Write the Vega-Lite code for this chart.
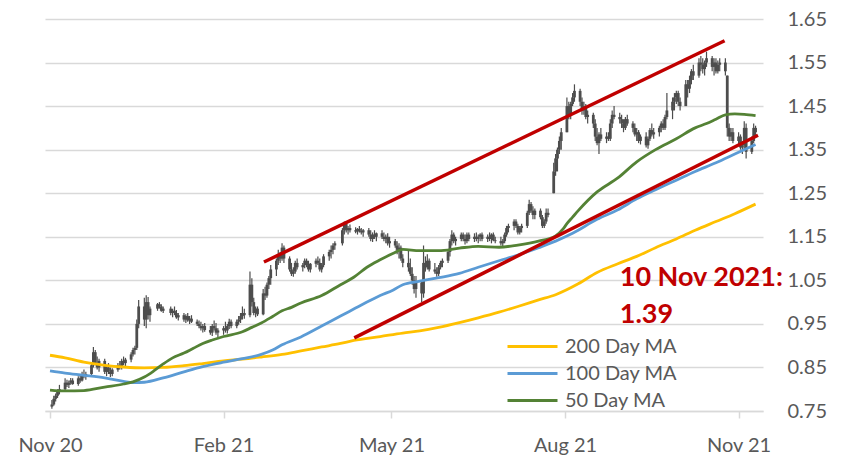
{
  "$schema": "https://vega.github.io/schema/vega-lite/v6.json",
  "width": 718,
  "height": 392,
  "autosize": {"type": "none"},
  "padding": {"left": 45, "top": 19, "right": 80, "bottom": 44},
  "background": "white",
  "config": {"view": {"stroke": null}, "font": "Lato"},
  "datasets": {
    "price": [
      {"d":"2020-11-02","o":0.76,"h":0.775,"l":0.755,"c":0.765},
      {"d":"2020-11-03","o":0.765,"h":0.785,"l":0.762,"c":0.778},
      {"d":"2020-11-04","o":0.778,"h":0.79,"l":0.772,"c":0.785},
      {"d":"2020-11-05","o":0.785,"h":0.8,"l":0.78,"c":0.795},
      {"d":"2020-11-06","o":0.795,"h":0.81,"l":0.788,"c":0.8},
      {"d":"2020-11-09","o":0.8,"h":0.825,"l":0.798,"c":0.815},
      {"d":"2020-11-10","o":0.815,"h":0.822,"l":0.805,"c":0.81},
      {"d":"2020-11-11","o":0.81,"h":0.82,"l":0.803,"c":0.815},
      {"d":"2020-11-12","o":0.815,"h":0.826,"l":0.81,"c":0.82},
      {"d":"2020-11-13","o":0.82,"h":0.825,"l":0.81,"c":0.812},
      {"d":"2020-11-16","o":0.812,"h":0.83,"l":0.808,"c":0.825},
      {"d":"2020-11-17","o":0.825,"h":0.835,"l":0.815,"c":0.82},
      {"d":"2020-11-18","o":0.82,"h":0.84,"l":0.818,"c":0.835},
      {"d":"2020-11-19","o":0.835,"h":0.845,"l":0.825,"c":0.83},
      {"d":"2020-11-20","o":0.83,"h":0.84,"l":0.822,"c":0.835},
      {"d":"2020-11-23","o":0.835,"h":0.86,"l":0.83,"c":0.855},
      {"d":"2020-11-24","o":0.855,"h":0.897,"l":0.85,"c":0.885},
      {"d":"2020-11-25","o":0.885,"h":0.89,"l":0.855,"c":0.86},
      {"d":"2020-11-26","o":0.86,"h":0.875,"l":0.845,"c":0.85},
      {"d":"2020-11-27","o":0.85,"h":0.87,"l":0.84,"c":0.865},
      {"d":"2020-11-30","o":0.865,"h":0.87,"l":0.835,"c":0.84},
      {"d":"2020-12-01","o":0.84,"h":0.855,"l":0.83,"c":0.85},
      {"d":"2020-12-02","o":0.85,"h":0.86,"l":0.835,"c":0.84},
      {"d":"2020-12-03","o":0.84,"h":0.85,"l":0.828,"c":0.835},
      {"d":"2020-12-04","o":0.835,"h":0.848,"l":0.83,"c":0.845},
      {"d":"2020-12-07","o":0.845,"h":0.86,"l":0.84,"c":0.855},
      {"d":"2020-12-08","o":0.855,"h":0.865,"l":0.845,"c":0.85},
      {"d":"2020-12-09","o":0.85,"h":0.87,"l":0.845,"c":0.865},
      {"d":"2020-12-10","o":0.865,"h":0.875,"l":0.855,"c":0.86},
      {"d":"2020-12-11","o":0.86,"h":0.872,"l":0.852,"c":0.868},
      {"d":"2020-12-14","o":0.868,"h":0.885,"l":0.862,"c":0.88},
      {"d":"2020-12-15","o":0.88,"h":0.895,"l":0.875,"c":0.89},
      {"d":"2020-12-16","o":0.89,"h":0.9,"l":0.88,"c":0.895},
      {"d":"2020-12-17","o":0.895,"h":0.96,"l":0.89,"c":0.95},
      {"d":"2020-12-18","o":0.95,"h":1.005,"l":0.94,"c":0.99},
      {"d":"2020-12-21","o":0.99,"h":1.01,"l":0.945,"c":0.96},
      {"d":"2020-12-22","o":0.96,"h":1.016,"l":0.94,"c":1.0},
      {"d":"2020-12-23","o":1.0,"h":1.012,"l":0.96,"c":0.97},
      {"d":"2020-12-24","o":0.97,"h":0.99,"l":0.955,"c":0.985},
      {"d":"2020-12-28","o":0.985,"h":0.998,"l":0.98,"c":0.995},
      {"d":"2020-12-29","o":0.995,"h":1.0,"l":0.985,"c":0.99},
      {"d":"2020-12-30","o":0.99,"h":0.995,"l":0.978,"c":0.98},
      {"d":"2020-12-31","o":0.98,"h":0.99,"l":0.975,"c":0.985},
      {"d":"2021-01-04","o":0.985,"h":0.99,"l":0.97,"c":0.975},
      {"d":"2021-01-05","o":0.975,"h":0.985,"l":0.965,"c":0.98},
      {"d":"2021-01-06","o":0.98,"h":0.99,"l":0.97,"c":0.975},
      {"d":"2021-01-07","o":0.975,"h":0.982,"l":0.962,"c":0.965},
      {"d":"2021-01-08","o":0.965,"h":0.975,"l":0.958,"c":0.97},
      {"d":"2021-01-11","o":0.97,"h":0.975,"l":0.955,"c":0.96},
      {"d":"2021-01-12","o":0.96,"h":0.972,"l":0.952,"c":0.968},
      {"d":"2021-01-13","o":0.968,"h":0.975,"l":0.955,"c":0.958},
      {"d":"2021-01-14","o":0.958,"h":0.968,"l":0.95,"c":0.962},
      {"d":"2021-01-15","o":0.962,"h":0.97,"l":0.952,"c":0.955},
      {"d":"2021-01-18","o":0.955,"h":0.96,"l":0.945,"c":0.95},
      {"d":"2021-01-19","o":0.95,"h":0.958,"l":0.94,"c":0.945},
      {"d":"2021-01-20","o":0.945,"h":0.955,"l":0.935,"c":0.94},
      {"d":"2021-01-21","o":0.94,"h":0.95,"l":0.93,"c":0.945},
      {"d":"2021-01-22","o":0.945,"h":0.952,"l":0.932,"c":0.936},
      {"d":"2021-01-25","o":0.936,"h":0.945,"l":0.925,"c":0.93},
      {"d":"2021-01-26","o":0.93,"h":0.95,"l":0.922,"c":0.945},
      {"d":"2021-01-27","o":0.945,"h":0.958,"l":0.935,"c":0.94},
      {"d":"2021-01-28","o":0.94,"h":0.952,"l":0.925,"c":0.93},
      {"d":"2021-01-29","o":0.93,"h":0.94,"l":0.92,"c":0.935},
      {"d":"2021-02-01","o":0.935,"h":0.945,"l":0.925,"c":0.94},
      {"d":"2021-02-02","o":0.94,"h":0.955,"l":0.93,"c":0.935},
      {"d":"2021-02-03","o":0.935,"h":0.95,"l":0.928,"c":0.945},
      {"d":"2021-02-04","o":0.945,"h":0.962,"l":0.938,"c":0.955},
      {"d":"2021-02-05","o":0.955,"h":0.96,"l":0.94,"c":0.945},
      {"d":"2021-02-08","o":0.945,"h":0.96,"l":0.94,"c":0.955},
      {"d":"2021-02-09","o":0.955,"h":0.968,"l":0.948,"c":0.96},
      {"d":"2021-02-10","o":0.96,"h":0.975,"l":0.952,"c":0.968},
      {"d":"2021-02-11","o":0.968,"h":0.99,"l":0.96,"c":0.975},
      {"d":"2021-02-12","o":0.975,"h":0.985,"l":0.962,"c":0.97},
      {"d":"2021-02-15","o":0.97,"h":1.07,"l":0.965,"c":1.04},
      {"d":"2021-02-16","o":1.04,"h":1.055,"l":0.99,"c":1.0},
      {"d":"2021-02-17","o":1.0,"h":1.01,"l":0.97,"c":0.975},
      {"d":"2021-02-18","o":0.975,"h":0.99,"l":0.965,"c":0.985},
      {"d":"2021-02-19","o":0.985,"h":0.99,"l":0.968,"c":0.972},
      {"d":"2021-02-22","o":0.972,"h":1.03,"l":0.97,"c":1.02},
      {"d":"2021-02-23","o":1.02,"h":1.035,"l":1.005,"c":1.015},
      {"d":"2021-02-24","o":1.015,"h":1.045,"l":1.01,"c":1.04},
      {"d":"2021-02-25","o":1.04,"h":1.06,"l":1.03,"c":1.055},
      {"d":"2021-02-26","o":1.055,"h":1.085,"l":1.04,"c":1.075},
      {"d":"2021-03-01","o":1.075,"h":1.1,"l":1.06,"c":1.095},
      {"d":"2021-03-02","o":1.095,"h":1.12,"l":1.085,"c":1.11},
      {"d":"2021-03-03","o":1.11,"h":1.115,"l":1.09,"c":1.1},
      {"d":"2021-03-04","o":1.1,"h":1.135,"l":1.095,"c":1.125},
      {"d":"2021-03-05","o":1.125,"h":1.13,"l":1.09,"c":1.1},
      {"d":"2021-03-08","o":1.1,"h":1.105,"l":1.07,"c":1.075},
      {"d":"2021-03-09","o":1.075,"h":1.09,"l":1.06,"c":1.065},
      {"d":"2021-03-10","o":1.065,"h":1.08,"l":1.058,"c":1.07},
      {"d":"2021-03-11","o":1.07,"h":1.095,"l":1.065,"c":1.09},
      {"d":"2021-03-12","o":1.09,"h":1.1,"l":1.075,"c":1.08},
      {"d":"2021-03-15","o":1.08,"h":1.09,"l":1.07,"c":1.085},
      {"d":"2021-03-16","o":1.085,"h":1.1,"l":1.078,"c":1.095},
      {"d":"2021-03-17","o":1.095,"h":1.1,"l":1.08,"c":1.085},
      {"d":"2021-03-18","o":1.085,"h":1.095,"l":1.07,"c":1.075},
      {"d":"2021-03-19","o":1.075,"h":1.09,"l":1.068,"c":1.088},
      {"d":"2021-03-22","o":1.088,"h":1.1,"l":1.08,"c":1.095},
      {"d":"2021-03-23","o":1.095,"h":1.105,"l":1.085,"c":1.09},
      {"d":"2021-03-24","o":1.09,"h":1.1,"l":1.07,"c":1.075},
      {"d":"2021-03-25","o":1.075,"h":1.09,"l":1.068,"c":1.085},
      {"d":"2021-03-26","o":1.085,"h":1.11,"l":1.08,"c":1.105},
      {"d":"2021-03-29","o":1.105,"h":1.12,"l":1.095,"c":1.115},
      {"d":"2021-03-30","o":1.115,"h":1.13,"l":1.1,"c":1.12},
      {"d":"2021-03-31","o":1.12,"h":1.135,"l":1.11,"c":1.13},
      {"d":"2021-04-01","o":1.13,"h":1.14,"l":1.12,"c":1.135},
      {"d":"2021-04-05","o":1.135,"h":1.17,"l":1.13,"c":1.165},
      {"d":"2021-04-06","o":1.165,"h":1.185,"l":1.155,"c":1.18},
      {"d":"2021-04-07","o":1.18,"h":1.185,"l":1.16,"c":1.165},
      {"d":"2021-04-08","o":1.165,"h":1.175,"l":1.155,"c":1.17},
      {"d":"2021-04-09","o":1.17,"h":1.178,"l":1.16,"c":1.165},
      {"d":"2021-04-12","o":1.165,"h":1.172,"l":1.158,"c":1.162},
      {"d":"2021-04-13","o":1.162,"h":1.17,"l":1.155,"c":1.168},
      {"d":"2021-04-14","o":1.168,"h":1.175,"l":1.16,"c":1.163},
      {"d":"2021-04-15","o":1.163,"h":1.17,"l":1.155,"c":1.16},
      {"d":"2021-04-16","o":1.16,"h":1.168,"l":1.15,"c":1.165},
      {"d":"2021-04-19","o":1.165,"h":1.17,"l":1.15,"c":1.155},
      {"d":"2021-04-20","o":1.155,"h":1.165,"l":1.14,"c":1.145},
      {"d":"2021-04-21","o":1.145,"h":1.16,"l":1.138,"c":1.155},
      {"d":"2021-04-22","o":1.155,"h":1.165,"l":1.145,"c":1.15},
      {"d":"2021-04-23","o":1.15,"h":1.16,"l":1.14,"c":1.158},
      {"d":"2021-04-26","o":1.158,"h":1.165,"l":1.145,"c":1.15},
      {"d":"2021-04-27","o":1.15,"h":1.16,"l":1.14,"c":1.145},
      {"d":"2021-04-28","o":1.145,"h":1.155,"l":1.135,"c":1.15},
      {"d":"2021-04-29","o":1.15,"h":1.158,"l":1.13,"c":1.135},
      {"d":"2021-04-30","o":1.135,"h":1.15,"l":1.125,"c":1.14},
      {"d":"2021-05-03","o":1.14,"h":1.145,"l":1.125,"c":1.13},
      {"d":"2021-05-04","o":1.13,"h":1.14,"l":1.11,"c":1.12},
      {"d":"2021-05-05","o":1.12,"h":1.135,"l":1.1,"c":1.125},
      {"d":"2021-05-06","o":1.125,"h":1.13,"l":1.095,"c":1.1},
      {"d":"2021-05-07","o":1.1,"h":1.11,"l":1.08,"c":1.09},
      {"d":"2021-05-10","o":1.09,"h":1.12,"l":1.07,"c":1.08},
      {"d":"2021-05-11","o":1.08,"h":1.1,"l":1.06,"c":1.065},
      {"d":"2021-05-12","o":1.065,"h":1.08,"l":1.04,"c":1.05},
      {"d":"2021-05-13","o":1.05,"h":1.06,"l":1.02,"c":1.03},
      {"d":"2021-05-14","o":1.03,"h":1.06,"l":1.01,"c":1.045},
      {"d":"2021-05-17","o":1.045,"h":1.05,"l":1.0,"c":1.02},
      {"d":"2021-05-18","o":1.02,"h":1.13,"l":1.01,"c":1.09},
      {"d":"2021-05-19","o":1.09,"h":1.105,"l":1.07,"c":1.08},
      {"d":"2021-05-20","o":1.08,"h":1.11,"l":1.075,"c":1.095},
      {"d":"2021-05-21","o":1.095,"h":1.1,"l":1.07,"c":1.075},
      {"d":"2021-05-24","o":1.075,"h":1.09,"l":1.065,"c":1.07},
      {"d":"2021-05-25","o":1.07,"h":1.08,"l":1.058,"c":1.065},
      {"d":"2021-05-26","o":1.065,"h":1.085,"l":1.06,"c":1.08},
      {"d":"2021-05-27","o":1.08,"h":1.095,"l":1.075,"c":1.09},
      {"d":"2021-05-28","o":1.09,"h":1.1,"l":1.08,"c":1.095},
      {"d":"2021-05-31","o":1.095,"h":1.12,"l":1.09,"c":1.115},
      {"d":"2021-06-01","o":1.115,"h":1.145,"l":1.105,"c":1.14},
      {"d":"2021-06-02","o":1.14,"h":1.165,"l":1.13,"c":1.155},
      {"d":"2021-06-03","o":1.155,"h":1.16,"l":1.135,"c":1.14},
      {"d":"2021-06-04","o":1.14,"h":1.15,"l":1.13,"c":1.145},
      {"d":"2021-06-07","o":1.145,"h":1.16,"l":1.14,"c":1.155},
      {"d":"2021-06-08","o":1.155,"h":1.16,"l":1.14,"c":1.145},
      {"d":"2021-06-09","o":1.145,"h":1.155,"l":1.132,"c":1.14},
      {"d":"2021-06-10","o":1.14,"h":1.16,"l":1.135,"c":1.155},
      {"d":"2021-06-11","o":1.155,"h":1.16,"l":1.14,"c":1.145},
      {"d":"2021-06-14","o":1.145,"h":1.158,"l":1.138,"c":1.15},
      {"d":"2021-06-15","o":1.15,"h":1.16,"l":1.14,"c":1.145},
      {"d":"2021-06-16","o":1.145,"h":1.155,"l":1.135,"c":1.15},
      {"d":"2021-06-17","o":1.15,"h":1.158,"l":1.14,"c":1.155},
      {"d":"2021-06-18","o":1.155,"h":1.16,"l":1.14,"c":1.145},
      {"d":"2021-06-21","o":1.145,"h":1.155,"l":1.138,"c":1.15},
      {"d":"2021-06-22","o":1.15,"h":1.16,"l":1.14,"c":1.145},
      {"d":"2021-06-23","o":1.145,"h":1.158,"l":1.135,"c":1.155},
      {"d":"2021-06-24","o":1.155,"h":1.16,"l":1.14,"c":1.142},
      {"d":"2021-06-25","o":1.142,"h":1.15,"l":1.135,"c":1.14},
      {"d":"2021-06-28","o":1.14,"h":1.15,"l":1.13,"c":1.135},
      {"d":"2021-06-29","o":1.135,"h":1.145,"l":1.128,"c":1.14},
      {"d":"2021-06-30","o":1.14,"h":1.16,"l":1.135,"c":1.155},
      {"d":"2021-07-01","o":1.155,"h":1.175,"l":1.15,"c":1.17},
      {"d":"2021-07-02","o":1.17,"h":1.18,"l":1.16,"c":1.175},
      {"d":"2021-07-05","o":1.175,"h":1.19,"l":1.165,"c":1.185},
      {"d":"2021-07-06","o":1.185,"h":1.19,"l":1.17,"c":1.175},
      {"d":"2021-07-07","o":1.175,"h":1.18,"l":1.155,"c":1.16},
      {"d":"2021-07-08","o":1.16,"h":1.175,"l":1.155,"c":1.17},
      {"d":"2021-07-09","o":1.17,"h":1.18,"l":1.16,"c":1.175},
      {"d":"2021-07-12","o":1.175,"h":1.21,"l":1.17,"c":1.205},
      {"d":"2021-07-13","o":1.205,"h":1.235,"l":1.2,"c":1.225},
      {"d":"2021-07-14","o":1.225,"h":1.23,"l":1.205,"c":1.21},
      {"d":"2021-07-15","o":1.21,"h":1.22,"l":1.19,"c":1.2},
      {"d":"2021-07-16","o":1.2,"h":1.215,"l":1.19,"c":1.21},
      {"d":"2021-07-19","o":1.21,"h":1.215,"l":1.19,"c":1.195},
      {"d":"2021-07-20","o":1.195,"h":1.2,"l":1.17,"c":1.175},
      {"d":"2021-07-21","o":1.175,"h":1.19,"l":1.17,"c":1.185},
      {"d":"2021-07-22","o":1.185,"h":1.215,"l":1.18,"c":1.205},
      {"d":"2021-07-23","o":1.205,"h":1.215,"l":1.195,"c":1.2},
      {"d":"2021-07-26","o":1.25,"h":1.32,"l":1.25,"c":1.3},
      {"d":"2021-07-27","o":1.3,"h":1.34,"l":1.29,"c":1.33},
      {"d":"2021-07-28","o":1.33,"h":1.355,"l":1.3,"c":1.35},
      {"d":"2021-07-29","o":1.35,"h":1.38,"l":1.34,"c":1.37},
      {"d":"2021-07-30","o":1.37,"h":1.4,"l":1.35,"c":1.39},
      {"d":"2021-08-02","o":1.39,"h":1.47,"l":1.39,"c":1.45},
      {"d":"2021-08-03","o":1.45,"h":1.46,"l":1.42,"c":1.43},
      {"d":"2021-08-04","o":1.43,"h":1.46,"l":1.42,"c":1.455},
      {"d":"2021-08-05","o":1.455,"h":1.48,"l":1.45,"c":1.47},
      {"d":"2021-08-06","o":1.47,"h":1.5,"l":1.46,"c":1.485},
      {"d":"2021-08-09","o":1.485,"h":1.49,"l":1.45,"c":1.46},
      {"d":"2021-08-10","o":1.46,"h":1.47,"l":1.43,"c":1.44},
      {"d":"2021-08-11","o":1.44,"h":1.46,"l":1.43,"c":1.45},
      {"d":"2021-08-12","o":1.45,"h":1.455,"l":1.42,"c":1.425},
      {"d":"2021-08-13","o":1.425,"h":1.44,"l":1.41,"c":1.43},
      {"d":"2021-08-16","o":1.43,"h":1.435,"l":1.4,"c":1.41},
      {"d":"2021-08-17","o":1.41,"h":1.42,"l":1.37,"c":1.38},
      {"d":"2021-08-18","o":1.38,"h":1.4,"l":1.36,"c":1.365},
      {"d":"2021-08-19","o":1.365,"h":1.39,"l":1.34,"c":1.385},
      {"d":"2021-08-20","o":1.385,"h":1.4,"l":1.37,"c":1.375},
      {"d":"2021-08-23","o":1.375,"h":1.39,"l":1.365,"c":1.38},
      {"d":"2021-08-24","o":1.38,"h":1.39,"l":1.37,"c":1.375},
      {"d":"2021-08-25","o":1.375,"h":1.42,"l":1.37,"c":1.41},
      {"d":"2021-08-26","o":1.41,"h":1.44,"l":1.4,"c":1.43},
      {"d":"2021-08-27","o":1.43,"h":1.45,"l":1.42,"c":1.425},
      {"d":"2021-08-30","o":1.425,"h":1.435,"l":1.41,"c":1.42},
      {"d":"2021-08-31","o":1.42,"h":1.43,"l":1.4,"c":1.41},
      {"d":"2021-09-01","o":1.41,"h":1.42,"l":1.39,"c":1.4},
      {"d":"2021-09-02","o":1.4,"h":1.425,"l":1.395,"c":1.42},
      {"d":"2021-09-03","o":1.42,"h":1.43,"l":1.405,"c":1.41},
      {"d":"2021-09-06","o":1.41,"h":1.415,"l":1.39,"c":1.4},
      {"d":"2021-09-07","o":1.4,"h":1.41,"l":1.38,"c":1.385},
      {"d":"2021-09-08","o":1.385,"h":1.4,"l":1.37,"c":1.39},
      {"d":"2021-09-09","o":1.39,"h":1.395,"l":1.365,"c":1.37},
      {"d":"2021-09-10","o":1.37,"h":1.385,"l":1.362,"c":1.38},
      {"d":"2021-09-13","o":1.38,"h":1.39,"l":1.355,"c":1.36},
      {"d":"2021-09-14","o":1.36,"h":1.38,"l":1.352,"c":1.375},
      {"d":"2021-09-15","o":1.375,"h":1.4,"l":1.37,"c":1.395},
      {"d":"2021-09-16","o":1.395,"h":1.41,"l":1.38,"c":1.385},
      {"d":"2021-09-17","o":1.385,"h":1.4,"l":1.375,"c":1.39},
      {"d":"2021-09-20","o":1.39,"h":1.405,"l":1.38,"c":1.4},
      {"d":"2021-09-21","o":1.4,"h":1.415,"l":1.39,"c":1.41},
      {"d":"2021-09-22","o":1.41,"h":1.42,"l":1.395,"c":1.4},
      {"d":"2021-09-23","o":1.4,"h":1.43,"l":1.395,"c":1.425},
      {"d":"2021-09-24","o":1.425,"h":1.48,"l":1.42,"c":1.44},
      {"d":"2021-09-27","o":1.44,"h":1.47,"l":1.42,"c":1.46},
      {"d":"2021-09-28","o":1.46,"h":1.48,"l":1.44,"c":1.47},
      {"d":"2021-09-29","o":1.47,"h":1.485,"l":1.455,"c":1.48},
      {"d":"2021-09-30","o":1.48,"h":1.485,"l":1.45,"c":1.46},
      {"d":"2021-10-01","o":1.46,"h":1.47,"l":1.44,"c":1.45},
      {"d":"2021-10-04","o":1.45,"h":1.51,"l":1.45,"c":1.5},
      {"d":"2021-10-05","o":1.5,"h":1.51,"l":1.47,"c":1.49},
      {"d":"2021-10-06","o":1.49,"h":1.52,"l":1.48,"c":1.51},
      {"d":"2021-10-07","o":1.51,"h":1.535,"l":1.5,"c":1.53},
      {"d":"2021-10-08","o":1.53,"h":1.545,"l":1.51,"c":1.52},
      {"d":"2021-10-11","o":1.52,"h":1.56,"l":1.515,"c":1.55},
      {"d":"2021-10-12","o":1.55,"h":1.565,"l":1.53,"c":1.545},
      {"d":"2021-10-13","o":1.545,"h":1.56,"l":1.525,"c":1.535},
      {"d":"2021-10-14","o":1.535,"h":1.555,"l":1.52,"c":1.55},
      {"d":"2021-10-15","o":1.55,"h":1.575,"l":1.54,"c":1.56},
      {"d":"2021-10-18","o":1.56,"h":1.565,"l":1.53,"c":1.54},
      {"d":"2021-10-19","o":1.54,"h":1.56,"l":1.52,"c":1.55},
      {"d":"2021-10-20","o":1.55,"h":1.56,"l":1.525,"c":1.53},
      {"d":"2021-10-21","o":1.53,"h":1.555,"l":1.525,"c":1.545},
      {"d":"2021-10-22","o":1.545,"h":1.56,"l":1.53,"c":1.55},
      {"d":"2021-10-25","o":1.55,"h":1.56,"l":1.52,"c":1.53},
      {"d":"2021-10-26","o":1.52,"h":1.52,"l":1.38,"c":1.4},
      {"d":"2021-10-27","o":1.4,"h":1.41,"l":1.37,"c":1.38},
      {"d":"2021-10-28","o":1.38,"h":1.4,"l":1.37,"c":1.39},
      {"d":"2021-10-29","o":1.39,"h":1.4,"l":1.365,"c":1.37},
      {"d":"2021-11-01","o":1.37,"h":1.39,"l":1.36,"c":1.38},
      {"d":"2021-11-02","o":1.38,"h":1.385,"l":1.35,"c":1.355},
      {"d":"2021-11-03","o":1.355,"h":1.37,"l":1.34,"c":1.36},
      {"d":"2021-11-04","o":1.36,"h":1.415,"l":1.35,"c":1.4},
      {"d":"2021-11-05","o":1.4,"h":1.41,"l":1.33,"c":1.345},
      {"d":"2021-11-08","o":1.345,"h":1.38,"l":1.34,"c":1.37},
      {"d":"2021-11-09","o":1.37,"h":1.41,"l":1.365,"c":1.4},
      {"d":"2021-11-10","o":1.4,"h":1.405,"l":1.38,"c":1.39}
    ],
    "ma": [
      {"s":"200 Day MA","d":"2020-11-01","v":0.878},
      {"s":"200 Day MA","d":"2020-11-09","v":0.872},
      {"s":"200 Day MA","d":"2020-11-19","v":0.862},
      {"s":"200 Day MA","d":"2020-11-30","v":0.855},
      {"s":"200 Day MA","d":"2020-12-10","v":0.851},
      {"s":"200 Day MA","d":"2020-12-21","v":0.849},
      {"s":"200 Day MA","d":"2020-12-31","v":0.85},
      {"s":"200 Day MA","d":"2021-01-11","v":0.854},
      {"s":"200 Day MA","d":"2021-01-21","v":0.859},
      {"s":"200 Day MA","d":"2021-02-01","v":0.865},
      {"s":"200 Day MA","d":"2021-02-11","v":0.869},
      {"s":"200 Day MA","d":"2021-02-21","v":0.874},
      {"s":"200 Day MA","d":"2021-03-04","v":0.88},
      {"s":"200 Day MA","d":"2021-03-14","v":0.888},
      {"s":"200 Day MA","d":"2021-03-25","v":0.897},
      {"s":"200 Day MA","d":"2021-04-04","v":0.905},
      {"s":"200 Day MA","d":"2021-04-11","v":0.912},
      {"s":"200 Day MA","d":"2021-04-25","v":0.921},
      {"s":"200 Day MA","d":"2021-05-07","v":0.929},
      {"s":"200 Day MA","d":"2021-05-16","v":0.934},
      {"s":"200 Day MA","d":"2021-05-26","v":0.942},
      {"s":"200 Day MA","d":"2021-06-06","v":0.953},
      {"s":"200 Day MA","d":"2021-06-16","v":0.964},
      {"s":"200 Day MA","d":"2021-06-27","v":0.977},
      {"s":"200 Day MA","d":"2021-07-07","v":0.99},
      {"s":"200 Day MA","d":"2021-07-18","v":1.005},
      {"s":"200 Day MA","d":"2021-07-27","v":1.017},
      {"s":"200 Day MA","d":"2021-08-08","v":1.042},
      {"s":"200 Day MA","d":"2021-08-18","v":1.068},
      {"s":"200 Day MA","d":"2021-08-29","v":1.088},
      {"s":"200 Day MA","d":"2021-09-08","v":1.105},
      {"s":"200 Day MA","d":"2021-09-18","v":1.125},
      {"s":"200 Day MA","d":"2021-09-29","v":1.145},
      {"s":"200 Day MA","d":"2021-10-09","v":1.165},
      {"s":"200 Day MA","d":"2021-10-20","v":1.185},
      {"s":"200 Day MA","d":"2021-10-30","v":1.203},
      {"s":"200 Day MA","d":"2021-11-10","v":1.225},
      {"s":"100 Day MA","d":"2020-11-01","v":0.842},
      {"s":"100 Day MA","d":"2020-11-09","v":0.837},
      {"s":"100 Day MA","d":"2020-11-19","v":0.832},
      {"s":"100 Day MA","d":"2020-11-30","v":0.826},
      {"s":"100 Day MA","d":"2020-12-10","v":0.818},
      {"s":"100 Day MA","d":"2020-12-15","v":0.815},
      {"s":"100 Day MA","d":"2020-12-21","v":0.816},
      {"s":"100 Day MA","d":"2020-12-31","v":0.826},
      {"s":"100 Day MA","d":"2021-01-11","v":0.84},
      {"s":"100 Day MA","d":"2021-01-21","v":0.852},
      {"s":"100 Day MA","d":"2021-02-01","v":0.862},
      {"s":"100 Day MA","d":"2021-02-11","v":0.87},
      {"s":"100 Day MA","d":"2021-02-21","v":0.88},
      {"s":"100 Day MA","d":"2021-02-27","v":0.89},
      {"s":"100 Day MA","d":"2021-03-04","v":0.902},
      {"s":"100 Day MA","d":"2021-03-14","v":0.92},
      {"s":"100 Day MA","d":"2021-03-25","v":0.945},
      {"s":"100 Day MA","d":"2021-04-04","v":0.968},
      {"s":"100 Day MA","d":"2021-04-11","v":0.984},
      {"s":"100 Day MA","d":"2021-04-18","v":1.0},
      {"s":"100 Day MA","d":"2021-04-25","v":1.015},
      {"s":"100 Day MA","d":"2021-05-02","v":1.028},
      {"s":"100 Day MA","d":"2021-05-07","v":1.04},
      {"s":"100 Day MA","d":"2021-05-16","v":1.048},
      {"s":"100 Day MA","d":"2021-05-26","v":1.056},
      {"s":"100 Day MA","d":"2021-06-06","v":1.066},
      {"s":"100 Day MA","d":"2021-06-16","v":1.08},
      {"s":"100 Day MA","d":"2021-06-27","v":1.095},
      {"s":"100 Day MA","d":"2021-07-07","v":1.108},
      {"s":"100 Day MA","d":"2021-07-18","v":1.125},
      {"s":"100 Day MA","d":"2021-07-27","v":1.14},
      {"s":"100 Day MA","d":"2021-08-05","v":1.158},
      {"s":"100 Day MA","d":"2021-08-18","v":1.19},
      {"s":"100 Day MA","d":"2021-08-29","v":1.212},
      {"s":"100 Day MA","d":"2021-09-08","v":1.237},
      {"s":"100 Day MA","d":"2021-09-18","v":1.258},
      {"s":"100 Day MA","d":"2021-09-29","v":1.28},
      {"s":"100 Day MA","d":"2021-10-09","v":1.3},
      {"s":"100 Day MA","d":"2021-10-20","v":1.32},
      {"s":"100 Day MA","d":"2021-10-30","v":1.34},
      {"s":"100 Day MA","d":"2021-11-10","v":1.362},
      {"s":"50 Day MA","d":"2020-11-01","v":0.798},
      {"s":"50 Day MA","d":"2020-11-09","v":0.796},
      {"s":"50 Day MA","d":"2020-11-19","v":0.797},
      {"s":"50 Day MA","d":"2020-11-30","v":0.805},
      {"s":"50 Day MA","d":"2020-12-10","v":0.812},
      {"s":"50 Day MA","d":"2020-12-15","v":0.817},
      {"s":"50 Day MA","d":"2020-12-21","v":0.828},
      {"s":"50 Day MA","d":"2020-12-26","v":0.842},
      {"s":"50 Day MA","d":"2020-12-31","v":0.858},
      {"s":"50 Day MA","d":"2021-01-05","v":0.872},
      {"s":"50 Day MA","d":"2021-01-11","v":0.883},
      {"s":"50 Day MA","d":"2021-01-16","v":0.894},
      {"s":"50 Day MA","d":"2021-01-21","v":0.905},
      {"s":"50 Day MA","d":"2021-01-26","v":0.913},
      {"s":"50 Day MA","d":"2021-02-01","v":0.921},
      {"s":"50 Day MA","d":"2021-02-11","v":0.932},
      {"s":"50 Day MA","d":"2021-02-16","v":0.942},
      {"s":"50 Day MA","d":"2021-02-21","v":0.952},
      {"s":"50 Day MA","d":"2021-02-27","v":0.967},
      {"s":"50 Day MA","d":"2021-03-04","v":0.98},
      {"s":"50 Day MA","d":"2021-03-09","v":0.988},
      {"s":"50 Day MA","d":"2021-03-14","v":0.998},
      {"s":"50 Day MA","d":"2021-03-25","v":1.015},
      {"s":"50 Day MA","d":"2021-04-04","v":1.04},
      {"s":"50 Day MA","d":"2021-04-11","v":1.057},
      {"s":"50 Day MA","d":"2021-04-18","v":1.08},
      {"s":"50 Day MA","d":"2021-04-25","v":1.097},
      {"s":"50 Day MA","d":"2021-05-02","v":1.112},
      {"s":"50 Day MA","d":"2021-05-07","v":1.121},
      {"s":"50 Day MA","d":"2021-05-16","v":1.118},
      {"s":"50 Day MA","d":"2021-05-26","v":1.118},
      {"s":"50 Day MA","d":"2021-06-06","v":1.124},
      {"s":"50 Day MA","d":"2021-06-16","v":1.128},
      {"s":"50 Day MA","d":"2021-06-27","v":1.126},
      {"s":"50 Day MA","d":"2021-07-07","v":1.131},
      {"s":"50 Day MA","d":"2021-07-18","v":1.14},
      {"s":"50 Day MA","d":"2021-07-27","v":1.152},
      {"s":"50 Day MA","d":"2021-07-31","v":1.168},
      {"s":"50 Day MA","d":"2021-08-02","v":1.18},
      {"s":"50 Day MA","d":"2021-08-05","v":1.195},
      {"s":"50 Day MA","d":"2021-08-08","v":1.21},
      {"s":"50 Day MA","d":"2021-08-18","v":1.253},
      {"s":"50 Day MA","d":"2021-08-29","v":1.285},
      {"s":"50 Day MA","d":"2021-09-08","v":1.322},
      {"s":"50 Day MA","d":"2021-09-18","v":1.35},
      {"s":"50 Day MA","d":"2021-09-29","v":1.375},
      {"s":"50 Day MA","d":"2021-10-09","v":1.4},
      {"s":"50 Day MA","d":"2021-10-15","v":1.41},
      {"s":"50 Day MA","d":"2021-10-20","v":1.42},
      {"s":"50 Day MA","d":"2021-10-25","v":1.43},
      {"s":"50 Day MA","d":"2021-10-30","v":1.432},
      {"s":"50 Day MA","d":"2021-11-04","v":1.431},
      {"s":"50 Day MA","d":"2021-11-10","v":1.428}
    ],
    "trend": [
      {"g":"upper","d":"2021-02-22T10:00:00Z","v":1.092},
      {"g":"upper","d":"2021-10-24T14:00:00Z","v":1.6},
      {"g":"lower","d":"2021-04-11T07:00:00Z","v":0.918},
      {"g":"lower","d":"2021-11-11T07:00:00Z","v":1.383}
    ],
    "note": [
      {"t":"10 Nov 2021:","d":"2021-08-30","v":1.055},
      {"t":"1.39","d":"2021-08-30","v":0.97}
    ]
  },
  "layer": [
    {
      "data": {"name": "price"},
      "mark": {"type": "rule", "color": "#4d4d4d", "strokeWidth": 1.2},
      "encoding": {
        "x": {
          "field": "d", "type": "temporal",
          "scale": {"type": "utc", "domain": [{"year": 2020, "month": 11, "date": 1, "utc": true}, {"year": 2021, "month": 11, "date": 11, "hours": 7, "utc": true}]},
          "axis": {
            "title": null,
            "values": [
              {"year": 2020, "month": 11, "date": 1, "utc": true},
              {"year": 2021, "month": 2, "date": 1, "utc": true},
              {"year": 2021, "month": 5, "date": 1, "utc": true},
              {"year": 2021, "month": 8, "date": 1, "utc": true},
              {"year": 2021, "month": 11, "date": 1, "utc": true}
            ],
            "labelExpr": "utcFormat(datum.value, '%b %y')",
            "labelFlush": false,
            "labelOverlap": false,
            "grid": false,
            "domainColor": "#D9D9D9",
            "domainWidth": 1.5,
            "tickColor": "#D9D9D9",
            "tickWidth": 1.5,
            "tickSize": 7,
            "labelPadding": 17,
            "labelFont": "Lato",
            "labelFontSize": 20,
            "labelColor": "#595959"
          }
        },
        "y": {
          "field": "l", "type": "quantitative",
          "scale": {"domain": [0.75, 1.65], "nice": false, "zero": false},
          "axis": {
            "title": null,
            "orient": "right",
            "values": [0.75, 0.85, 0.95, 1.05, 1.15, 1.25, 1.35, 1.45, 1.55, 1.65],
            "format": ".2f",
            "domain": false,
            "ticks": false,
            "grid": true,
            "gridColor": "#D9D9D9",
            "gridWidth": 1.5,
            "labelPadding": 24,
            "labelFont": "Lato",
            "labelFontSize": 20,
            "labelColor": "#595959",
            "labelFlush": false
          }
        },
        "y2": {"field": "h"}
      }
    },
    {
      "data": {"name": "price"},
      "mark": {"type": "bar", "color": "#4d4d4d", "width": 2.8},
      "encoding": {
        "x": {"field": "d", "type": "temporal"},
        "y": {"field": "o", "type": "quantitative"},
        "y2": {"field": "c"}
      }
    },
    {
      "data": {"name": "ma"},
      "mark": {"type": "line", "strokeWidth": 2.8, "interpolate": "monotone"},
      "encoding": {
        "x": {"field": "d", "type": "temporal"},
        "y": {"field": "v", "type": "quantitative"},
        "color": {
          "field": "s", "type": "nominal",
          "scale": {"domain": ["200 Day MA", "100 Day MA", "50 Day MA"], "range": ["#FFC000", "#5B9BD5", "#548235"]},
          "legend": {
            "title": null,
            "orient": "none",
            "legendX": 461,
            "legendY": 314,
            "symbolType": "stroke",
            "symbolSize": 2500,
            "symbolStrokeWidth": 3,
            "labelFont": "Lato",
            "labelFontSize": 20,
            "labelColor": "#595959",
            "labelOffset": 6,
            "clipHeight": 27,
            "rowPadding": 0,
            "padding": 0
          }
        }
      }
    },
    {
      "data": {"name": "trend"},
      "mark": {"type": "line", "color": "#C00000", "strokeWidth": 3.5},
      "encoding": {
        "x": {"field": "d", "type": "temporal"},
        "y": {"field": "v", "type": "quantitative"},
        "detail": {"field": "g"}
      }
    },
    {
      "data": {"name": "note"},
      "mark": {"type": "text", "align": "left", "baseline": "middle", "font": "Lato", "fontSize": 27, "fontWeight": "bold", "color": "#C00000"},
      "encoding": {
        "x": {"field": "d", "type": "temporal"},
        "y": {"field": "v", "type": "quantitative"},
        "text": {"field": "t"}
      }
    }
  ]
}
